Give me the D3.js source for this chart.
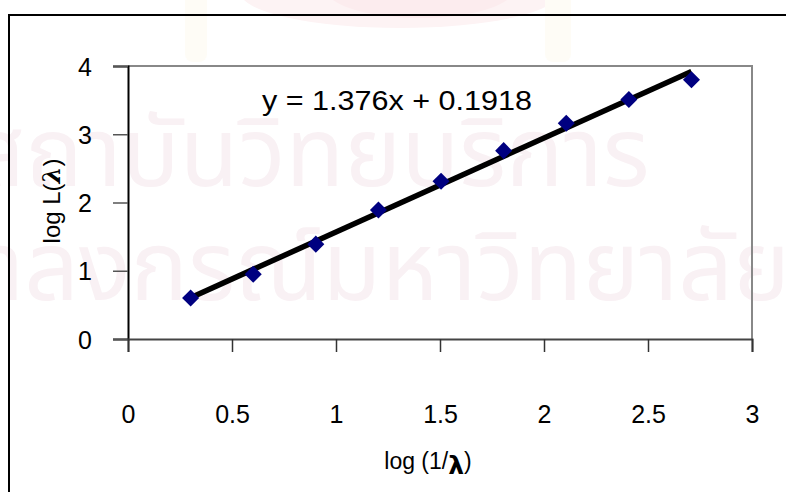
<!DOCTYPE html>
<html><head><meta charset="utf-8">
<script src="https://cdn.jsdelivr.net/npm/d3@7"></script>
<style>html,body{margin:0;padding:0;background:#fff;}svg{display:block;}</style>
</head><body>
<script>
const xValues = [0.301, 0.602, 0.903, 1.204, 1.505, 1.806, 2.107, 2.408, 2.709];
const yValues = [0.60, 0.95, 1.39, 1.89, 2.31, 2.76, 3.16, 3.51, 3.80];
const slope = 1.376, intercept = 0.1918;
const xTicks = [0, 0.5, 1, 1.5, 2, 2.5, 3];
const yTicks = [0, 1, 2, 3, 4];
const equationLabel = "y = 1.376x + 0.1918";
const watermark = ["สถาบันวิทยบริการ", "จุฬาลงกรณ์มหาวิทยาลัย"];

const W = 786, H = 492;
const svg = d3.select("body").append("svg").attr("width", W).attr("height", H);
const font = "'Liberation Sans', Arial, sans-serif";

// faint emblem + watermark
const bg = svg.append("g");
bg.append("ellipse").attr("cx", 400).attr("cy", -8).attr("rx", 160).attr("ry", 36).attr("fill", "#fdf3f4");
bg.append("ellipse").attr("cx", 420).attr("cy", -12).attr("rx", 95).attr("ry", 30).attr("fill", "#fcecee");
bg.append("rect").attr("x", 185).attr("y", -10).attr("width", 22).attr("height", 72).attr("rx", 8).attr("fill", "#fefcf6");
bg.append("rect").attr("x", 545).attr("y", -10).attr("width", 26).attr("height", 72).attr("rx", 8).attr("fill", "#fefcf6");
const wm = bg.append("g").attr("fill", "#f9f1f4").attr("font-family", "'Noto Sans Thai','Noto Sans','DejaVu Sans',sans-serif");
wm.append("text").attr("x", -30).attr("y", 186).attr("font-size", 96).text(watermark[0]);
wm.append("text").attr("x", -130).attr("y", 300).attr("font-size", 96).text(watermark[1]);

// outer frame
svg.append("path").attr("d", `M9,${H} V15 H${W}`).attr("fill", "none").attr("stroke", "#000").attr("stroke-width", 2);

const m = {l: 128, t: 66, r: 752, b: 339};
const x = d3.scaleLinear().domain([0, 3]).range([m.l, m.r]);
const y = d3.scaleLinear().domain([0, 4]).range([m.b, m.t]);

// plot area border (top/right grey)
svg.append("path").attr("d", `M${m.l},${m.t} H${m.r} V${m.b}`).attr("fill", "none").attr("stroke", "#888").attr("stroke-width", 2);

// y axis
const yAxis = svg.append("g").attr("transform", `translate(${m.l},0)`)
  .call(d3.axisLeft(y).tickValues(yTicks).tickSize(15).tickPadding(21).tickFormat(d3.format("d")));
yAxis.select(".domain").attr("stroke", "#000").attr("stroke-width", 2);
yAxis.selectAll(".tick line").attr("stroke", "#555").attr("stroke-width", 1.5);
yAxis.selectAll("text").attr("font-family", font).attr("font-size", 25).attr("fill", "#000").attr("dy", "0.36em");

// x axis
const xAxis = svg.append("g").attr("transform", `translate(0,${m.b})`)
  .call(d3.axisBottom(x).tickValues(xTicks).tickSize(13).tickPadding(0).tickFormat(d => d));
xAxis.select(".domain").attr("stroke", "#444").attr("stroke-width", 2);
xAxis.selectAll(".tick line").attr("stroke", "#333").attr("stroke-width", 1.5);
xAxis.selectAll("text").attr("font-family", font).attr("font-size", 25).attr("fill", "#000")
  .attr("y", 84).attr("dy", "0");

// trend line
const x0 = d3.min(xValues), x1 = d3.max(xValues);
svg.append("line")
  .attr("x1", x(x0)).attr("y1", y(slope * x0 + intercept))
  .attr("x2", x(x1)).attr("y2", y(slope * x1 + intercept))
  .attr("stroke", "#000").attr("stroke-width", 5.5);

// markers
svg.append("g").selectAll("path").data(xValues).join("path")
  .attr("d", d3.symbol().type(d3.symbolSquare).size(145))
  .attr("transform", (d, i) => `translate(${x(d)},${y(yValues[i])}) rotate(45)`)
  .attr("fill", "#000080");

// equation
svg.append("text").attr("x", 262).attr("y", 110).attr("font-family", font).attr("font-size", 27)
  .attr("fill", "#000").attr("textLength", 270).attr("lengthAdjust", "spacingAndGlyphs").text(equationLabel);

// axis titles
const yt = svg.append("text").attr("transform", "translate(60,201) rotate(-90)")
  .attr("text-anchor", "middle").attr("font-family", font).attr("font-size", 24).attr("fill", "#000");
yt.append("tspan").text("log L(");
yt.append("tspan").attr("font-weight", "bold").attr("font-family", "'DejaVu Serif',serif").attr("font-style", "italic").text("λ");
yt.append("tspan").text(")");

const xt = svg.append("text").attr("x", 428).attr("y", 469)
  .attr("text-anchor", "middle").attr("font-family", font).attr("font-size", 23).attr("fill", "#000");
xt.append("tspan").text("log (1/");
xt.append("tspan").attr("dy", 5).attr("font-weight", "bold").attr("font-family", "'DejaVu Sans',sans-serif").attr("font-size", 25).text("λ");
xt.append("tspan").attr("dy", -5).text(")");
</script>
</body></html>
